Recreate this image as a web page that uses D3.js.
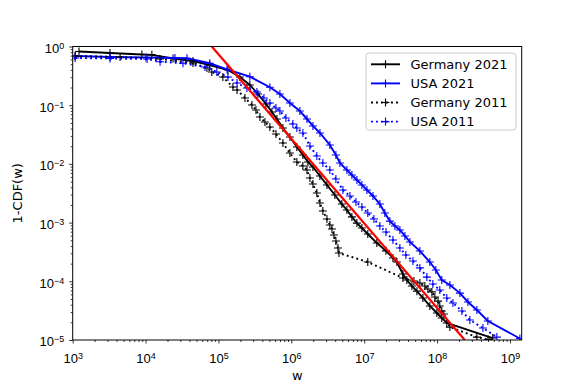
<!DOCTYPE html>
<html>
<head>
<meta charset="utf-8">
<script src="https://cdn.jsdelivr.net/npm/d3@7"></script>
<style>
  body { margin: 0; background: #fff; }
  svg { font-family: "DejaVu Sans", sans-serif; }
</style>
</head>
<body>
<svg id="chart" width="581" height="388"></svg>
<script>
// 1-CDF curves, [w, 1-CDF(w)]
const germany2021 = [
  [1.22e3, 0.82], [3.25e3, 0.775], [8.9e3, 0.73], [1.22e4, 0.72], [2.38e4, 0.625],
  [4.47e4, 0.567], [7.6e4, 0.484], [1.35e5, 0.398], [1.97e5, 0.302], [2.7e5, 0.221],
  [3.48e5, 0.155], [4.48e5, 0.105], [5.42e5, 0.0766], [6.34e5, 0.0582], [7.67e5, 0.0409],
  [9.57e5, 0.0287], [1.19e6, 0.0194], [1.44e6, 0.0142], [1.69e6, 0.0108], [1.98e6, 0.00885],
  [2.47e6, 0.00622], [3.08e6, 0.00438], [3.96e6, 0.00295], [4.94e6, 0.00207], [5.79e6, 0.00164],
  [6.78e6, 0.00125], [7.94e6, 0.00098], [9.3e6, 0.00081], [1.12e7, 0.00064], [1.49e7, 0.00045],
  [1.99e7, 0.00033], [2.48e7, 0.00025], [2.81e7, 0.000213], [3.4e7, 0.000133], [3.85e7, 0.000105],
  [4.52e7, 8.3e-5], [5.29e7, 6.8e-5], [6.39e7, 5.2e-5], [7.96e7, 3.8e-5], [9.94e7, 2.88e-5],
  [1.16e8, 2.37e-5], [1.36e8, 1.95e-5], [5.8e8, 1.08e-5]
];
const usa2021 = [
  [1.08e3, 0.69], [3.25e3, 0.662], [1.01e4, 0.65], [2.53e4, 0.637], [3.7e4, 0.63],
  [7.6e4, 0.518], [1.31e5, 0.409], [2.7e5, 0.306], [5.08e5, 0.202], [6.97e5, 0.155],
  [9.57e5, 0.109], [1.31e6, 0.0796], [1.64e6, 0.0582], [1.98e6, 0.0443], [2.47e6, 0.0336],
  [3.38e6, 0.021], [4.09e6, 0.0142], [4.64e6, 0.01035], [5.79e6, 0.00787], [6.78e6, 0.00647],
  [7.94e6, 0.00532], [9.3e6, 0.00438], [1.09e7, 0.00359], [1.32e7, 0.00284], [1.64e7, 0.00207],
  [1.92e7, 0.00146], [2.25e7, 0.00106], [2.64e7, 0.000875], [3.09e7, 0.000748], [3.62e7, 0.000592],
  [4.24e7, 0.000468], [5.81e7, 0.000328], [7.96e7, 0.000213], [9.61e7, 0.000156], [1.16e8, 0.000105],
  [1.5e8, 8.65e-5], [2.06e8, 6.3e-5], [2.65e8, 4.44e-5], [3.52e8, 3.24e-5], [4.98e8, 2.11e-5],
  [1.37e9, 1.06e-5]
];
const germany2011 = [
  [1.08e3, 0.69], [4.47e3, 0.662], [1.58e4, 0.612], [4.47e4, 0.523], [6.95e4, 0.43],
  [8.1e4, 0.368], [1.15e5, 0.302], [1.58e5, 0.204], [1.8e5, 0.182], [2.31e5, 0.133],
  [2.88e5, 0.101], [3.27e5, 0.0828], [3.71e5, 0.063], [4.34e5, 0.0518], [5.08e5, 0.0425],
  [6.15e5, 0.0323], [7.67e5, 0.0227], [9.57e5, 0.0153], [1.19e6, 0.0108], [1.44e6, 0.0092],
  [1.64e6, 0.00787], [1.8e6, 0.00575], [1.98e6, 0.00455], [2.24e6, 0.00319], [2.47e6, 0.00216],
  [2.71e6, 0.00158], [3.08e6, 0.00115], [3.38e6, 0.00091], [3.61e6, 0.00078], [3.84e6, 0.000615],
  [4.09e6, 0.000486], [4.36e6, 0.000369], [4.5e6, 0.000303], [1.12e7, 0.000213], [3.4e7, 0.000114],
  [4.81e7, 1.01e-4], [5.81e7, 9.35e-5], [6.8e7, 8.3e-5], [7.48e7, 7.4e-5], [8.49e7, 6.6e-5],
  [9.33e7, 5.4e-5], [1.03e8, 4.6e-5], [1.09e8, 3.8e-5], [1.16e8, 3.12e-5], [1.24e8, 2.77e-5],
  [1.5e8, 1.66e-5], [3.52e8, 1.12e-5], [5.0e8, 1.02e-5]
];
const usa2011 = [
  [1.08e3, 0.637], [3.25e3, 0.625], [1.05e4, 0.612], [1.58e4, 0.551], [3.26e4, 0.518],
  [6.53e4, 0.448], [9.5e4, 0.368], [1.35e5, 0.302], [1.8e5, 0.239], [2.46e5, 0.196],
  [3.37e5, 0.168], [4.21e5, 0.133], [5.08e5, 0.109], [6.15e5, 0.0896], [6.97e5, 0.0796],
  [8.43e5, 0.0605], [1.05e6, 0.0478], [1.19e6, 0.0409], [1.44e6, 0.0336], [1.8e6, 0.0202],
  [2.24e6, 0.0136], [2.71e6, 0.01035], [3.38e6, 0.00787], [4.09e6, 0.00553], [5.1e6, 0.00359],
  [6.37e6, 0.00284], [7.71e6, 0.00224], [9.3e6, 0.00184], [1.12e7, 0.00146], [1.36e7, 0.00115],
  [1.64e7, 0.000875], [1.99e7, 0.000692], [2.48e7, 0.000506], [3.09e7, 0.000369], [3.73e7, 0.00028],
  [4.66e7, 0.000222], [5.81e7, 0.000169], [7.25e7, 0.000118], [8.75e7, 9e-5], [1.09e8, 7.1e-5],
  [1.36e8, 5.2e-5], [1.65e8, 4.27e-5], [2.19e8, 3.12e-5], [2.82e8, 2.19e-5], [4.26e8, 1.6e-5],
  [6.62e8, 1.12e-5]
];
// power-law fit, two end points
const fitLine = [[8.1e4, 1], [2.4e8, 1e-5]];

const seriesNames = ['Germany 2021', 'USA 2021', 'Germany 2011', 'USA 2011'];
const xTickExps = [3, 4, 5, 6, 7, 8, 9];
const yTickExps = [0, -1, -2, -3, -4, -5];

const series = [
  { name: seriesNames[0], data: germany2021, color: '#000000', dash: null },
  { name: seriesNames[1], data: usa2021, color: '#0000ff', dash: null },
  { name: seriesNames[2], data: germany2011, color: '#000000', dash: '1.9,3.1' },
  { name: seriesNames[3], data: usa2011, color: '#0000ff', dash: '1.9,3.1' },
];

const svg = d3.select('#chart');
const mLeft = 72.7, mRight = 521.7, mTop = 46.5, mBottom = 340;

const x = d3.scaleLog().domain([1e3, 1.45e9]).range([mLeft, mRight]);
const y = d3.scaleLog().domain([1e-5, 1]).range([mBottom, mTop]);

const minor = (lo, hi) => {
  const out = [];
  for (let e = lo; e <= hi; e++) {
    for (let m = 2; m <= 9; m++) out.push(m * Math.pow(10, e));
  }
  return out;
};
const xMinor = minor(3, 9).filter(v => v <= 1.45e9);
const yMinor = minor(-5, -1);

const supLabel = (sel, exps) => {
  sel.selectAll('.tick text').each(function (d, i) {
    const t = d3.select(this).text('');
    t.append('tspan').text('10');
    const e = exps[i];
    t.append('tspan')
      .attr('dy', '-0.45em')
      .attr('font-size', '9px')
      .text(e < 0 ? '\u2212' + (-e) : String(e));
  });
};

const styleAxis = (g) => {
  g.select('.domain').remove();
  g.selectAll('.tick line').attr('stroke', '#000').attr('stroke-width', 0.8);
  g.selectAll('.tick text').attr('fill', '#000').attr('font-size', '13px');
};

// minor ticks
svg.append('g')
  .attr('transform', `translate(0,${mBottom})`)
  .call(d3.axisBottom(x).tickValues(xMinor).tickSize(2).tickFormat(''))
  .call(styleAxis);
svg.append('g')
  .attr('transform', `translate(${mLeft},0)`)
  .call(d3.axisLeft(y).tickValues(yMinor).tickSize(2).tickFormat(''))
  .call(styleAxis);

// major ticks
const gx = svg.append('g')
  .attr('transform', `translate(0,${mBottom})`)
  .call(d3.axisBottom(x).tickValues(xTickExps.map(e => Math.pow(10, e))).tickSize(3.5).tickPadding(6))
  .call(styleAxis);
supLabel(gx, xTickExps);
gx.selectAll('.tick text').attr('dy', '1.05em');

const gy = svg.append('g')
  .attr('transform', `translate(${mLeft},0)`)
  .call(d3.axisLeft(y).tickValues(yTickExps.map(e => Math.pow(10, e))).tickSize(3.5).tickPadding(5))
  .call(styleAxis);
supLabel(gy, yTickExps);
gy.selectAll('.tick text').attr('dy', '0.45em');

// plot area clip
svg.append('clipPath').attr('id', 'plot-clip')
  .append('rect')
  .attr('x', mLeft).attr('y', mTop)
  .attr('width', mRight - mLeft).attr('height', mBottom - mTop);

const plot = svg.append('g').attr('clip-path', 'url(#plot-clip)');
const line = d3.line().x(d => x(d[0])).y(d => y(d[1]));
const plus = 'M-4,0H4M0,-4V4';

series.forEach(s => {
  const g = plot.append('g');
  g.append('path')
    .attr('d', line(s.data))
    .attr('fill', 'none')
    .attr('stroke', s.color)
    .attr('stroke-width', 1.9)
    .attr('stroke-dasharray', s.dash);
  g.selectAll('path.mk')
    .data(s.data)
    .join('path')
    .attr('class', 'mk')
    .attr('transform', d => `translate(${x(d[0])},${y(d[1])})`)
    .attr('d', plus)
    .attr('stroke', s.color)
    .attr('stroke-width', 1.1);
});

plot.append('path')
  .attr('d', line(fitLine))
  .attr('fill', 'none')
  .attr('stroke', '#ff0000')
  .attr('stroke-width', 2.2);

// frame
svg.append('rect')
  .attr('x', mLeft).attr('y', mTop)
  .attr('width', mRight - mLeft).attr('height', mBottom - mTop)
  .attr('fill', 'none').attr('stroke', '#000').attr('stroke-width', 1);

// axis labels
svg.append('text')
  .attr('x', (mLeft + mRight) / 2).attr('y', 380)
  .attr('text-anchor', 'middle').attr('font-size', '13px')
  .text('w');
svg.append('text')
  .attr('transform', `translate(22,${(mTop + mBottom) / 2}) rotate(-90)`)
  .attr('text-anchor', 'middle').attr('font-size', '13px')
  .text('1-CDF(w)');

// legend
const lg = svg.append('g');
lg.append('rect')
  .attr('x', 366).attr('y', 53).attr('width', 150).attr('height', 77)
  .attr('rx', 3)
  .attr('fill', '#fff').attr('fill-opacity', 0.8)
  .attr('stroke', '#cccccc').attr('stroke-width', 1);
series.forEach((s, i) => {
  const yy = 64.3 + i * 19.1;
  lg.append('line')
    .attr('x1', 371).attr('x2', 400).attr('y1', yy).attr('y2', yy)
    .attr('stroke', s.color).attr('stroke-width', 1.9)
    .attr('stroke-dasharray', s.dash);
  lg.append('path')
    .attr('transform', `translate(385.5,${yy})`)
    .attr('d', plus)
    .attr('stroke', s.color).attr('stroke-width', 1.1);
  lg.append('text')
    .attr('x', 410.5).attr('y', yy + 4.7)
    .attr('font-size', '13px')
    .text(s.name);
});
</script>
</body>
</html>
